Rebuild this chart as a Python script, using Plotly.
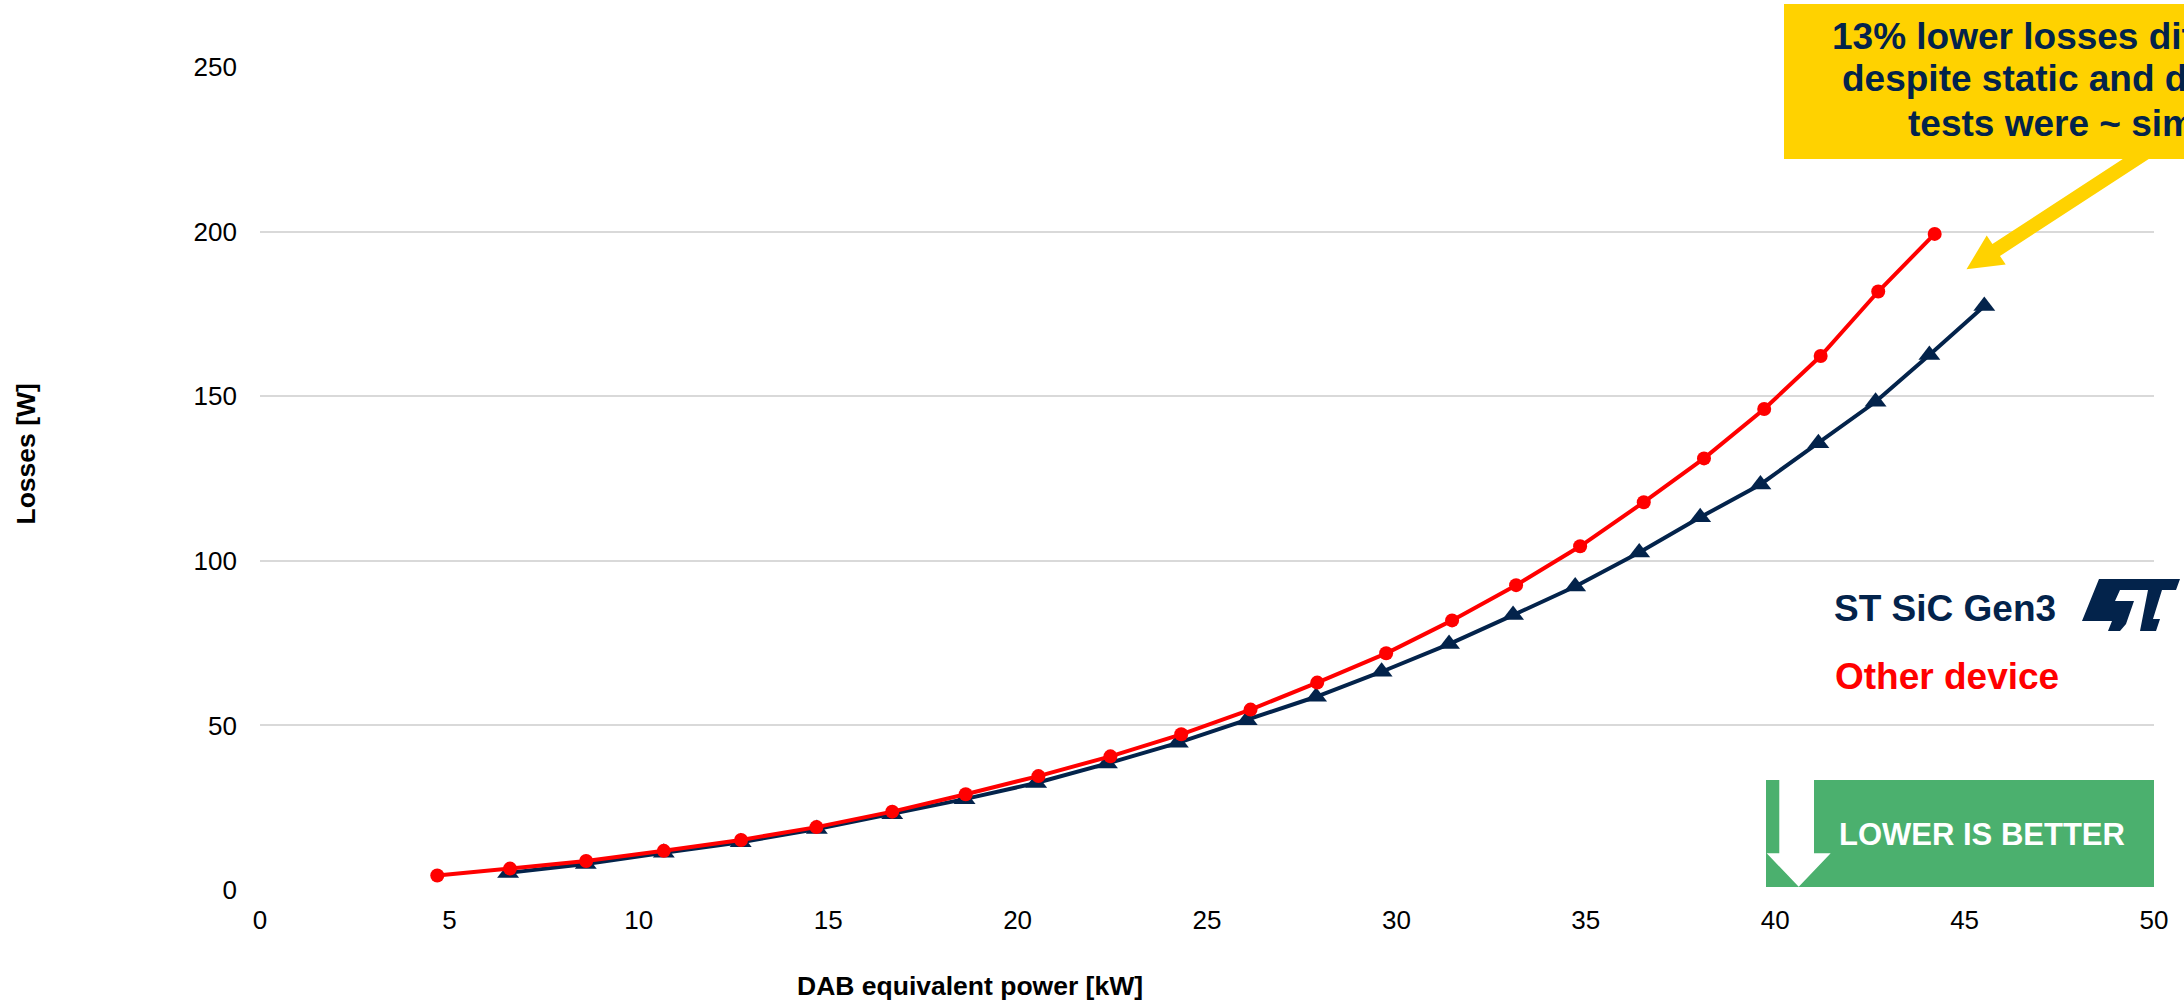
import plotly.graph_objects as go

# ---- measured loss curves -------------------------------------------------
power_other_kw = [4.68, 6.60, 8.61, 10.66, 12.70, 14.69, 16.69, 18.63, 20.55, 22.45,
                  24.32, 26.15, 27.91, 29.73, 31.47, 33.16, 34.85, 36.53, 38.12, 39.71,
                  41.20, 42.72, 44.21]
losses_other_w = [4.4, 6.5, 8.8, 11.9, 15.2, 19.1, 23.8, 29.1, 34.6, 40.6,
                  47.3, 54.8, 63.0, 71.9, 81.9, 92.6, 104.4, 117.8, 131.1, 146.1,
                  162.2, 181.8, 199.3]

power_st_kw = [6.55, 8.60, 10.66, 12.69, 14.70, 16.69, 18.60, 20.49, 22.36, 24.23,
               26.05, 27.88, 29.61, 31.39, 33.08, 34.72, 36.41, 38.02, 39.61, 41.14,
               42.65, 44.07, 45.52]
losses_st_w = [5.2, 7.9, 11.3, 14.5, 18.5, 23.0, 27.6, 32.5, 38.4, 44.7,
               51.6, 58.7, 66.3, 74.7, 83.5, 92.2, 102.5, 113.2, 123.2, 135.7,
               148.3, 162.5, 177.4]

x_ticks = [0, 5, 10, 15, 20, 25, 30, 35, 40, 45, 50]
y_ticks = [0, 50, 100, 150, 200, 250]

series_names = ["ST SiC Gen3", "Other device"]
callout_lines = ["13% lower losses difference", "despite static and dynamic", "tests were ~ similar"]

# ---- styling ----------------------------------------------------------------
NAVY = "#03234B"
RED = "#FF0000"
YELLOW = "#FFD200"
GREEN = "#4BB06E"
FONT = "Liberation Sans, Arial, sans-serif"

W, H = 2184, 1004
L, R, T, B = 260, 2154, 67, 890  # plot area in page pixels


def px(x):
    return (x - L) / (R - L)


def py(y):
    return (B - y) / (B - T)


def poly(points):
    return "M " + " L ".join(f"{px(x):.5f},{py(y):.5f}" for x, y in points) + " Z"


fig = go.Figure()

fig.add_trace(go.Scatter(
    x=power_st_kw, y=losses_st_w, name=series_names[0], mode="lines+markers",
    line=dict(color=NAVY, width=4),
    marker=dict(symbol="triangle-up", size=19, color=NAVY),
))
fig.add_trace(go.Scatter(
    x=power_other_kw, y=losses_other_w, name=series_names[1], mode="lines+markers",
    line=dict(color=RED, width=4),
    marker=dict(symbol="circle", size=14, color=RED),
))

shapes = []

# "lower is better" badge with a white down arrow
shapes.append(dict(type="rect", xref="paper", yref="paper",
                   x0=px(1766), x1=px(2154), y0=py(887), y1=py(780),
                   fillcolor=GREEN, line=dict(width=0), layer="above"))
shapes.append(dict(type="path", xref="paper", yref="paper",
                   path=poly([(1779.3, 780), (1814, 780), (1814, 853.3), (1830.7, 853.3),
                              (1798.7, 886.7), (1766.7, 853.3), (1779.3, 853.3)]),
                   fillcolor="white", line=dict(width=0), layer="above"))

# yellow arrow pointing at the curve ends
shapes.append(dict(type="path", xref="paper", yref="paper",
                   path=poly([(1966.5, 269.3), (2005.7, 264.6), (2000.0, 255.9),
                              (2153.4, 155.9), (2145.8, 144.1), (1992.4, 244.1),
                              (1986.7, 235.4)]),
                   fillcolor=YELLOW, line=dict(width=0), layer="above"))

# yellow callout box (runs past the right page edge)
shapes.append(dict(type="rect", xref="paper", yref="paper",
                   x0=px(1784), x1=px(2373), y0=py(159), y1=py(4),
                   fillcolor=YELLOW, line=dict(width=0), layer="above"))

# ST logo
ox, oy = 2082, 579
logo_s = [(17, 0), (98, 0), (94, 11), (38, 11), (33, 22), (52, 22), (44, 45),
          (38, 52), (26, 52), (30, 42), (0, 42)]
logo_t = [(66, 11), (80, 11), (71, 40), (78, 40), (74, 52), (58, 52)]
for piece in (logo_s, logo_t):
    shapes.append(dict(type="path", xref="paper", yref="paper",
                       path=poly([(ox + x, oy + y) for x, y in piece]),
                       fillcolor=NAVY, line=dict(width=0), layer="above"))

annotations = []
callout_mid = [36.5, 78.5, 123.0]
for text, ym in zip(callout_lines, callout_mid):
    annotations.append(dict(text=f"<b>{text}</b>", xref="paper", yref="paper",
                            x=px(2078.6), y=py(ym), xanchor="center", yanchor="middle",
                            showarrow=False, font=dict(family=FONT, size=37, color=NAVY)))

annotations.append(dict(text=f"<b>{series_names[0]}</b>", xref="paper", yref="paper",
                        x=px(1832), y=py(608), xanchor="left", yanchor="middle",
                        showarrow=False, font=dict(family=FONT, size=37, color=NAVY)))
annotations.append(dict(text=f"<b>{series_names[1]}</b>", xref="paper", yref="paper",
                        x=px(1832.5), y=py(676), xanchor="left", yanchor="middle",
                        showarrow=False, font=dict(family=FONT, size=37, color=RED)))

annotations.append(dict(text="<b>LOWER IS BETTER</b>", xref="paper", yref="paper",
                        x=px(1836.5), y=py(834), xanchor="left", yanchor="middle",
                        showarrow=False, font=dict(family=FONT, size=31, color="white")))

annotations.append(dict(text="<b>DAB equivalent power [kW]</b>", xref="paper", yref="paper",
                        x=px(970), y=py(986), xanchor="center", yanchor="middle",
                        showarrow=False, font=dict(family=FONT, size=26.5, color="black")))
annotations.append(dict(text="<b>Losses [W]</b>", xref="paper", yref="paper",
                        x=px(25.5), y=py(454), xanchor="center", yanchor="middle",
                        textangle=-90, showarrow=False,
                        font=dict(family=FONT, size=26.5, color="black")))

fig.update_layout(
    width=W, height=H,
    margin=dict(l=L, r=W - R, t=T, b=H - B, pad=0),
    paper_bgcolor="white", plot_bgcolor="white",
    showlegend=False,
    font=dict(family=FONT, size=26, color="black"),
    shapes=shapes,
    annotations=annotations,
    xaxis=dict(range=[0, 50], tickvals=x_ticks, showgrid=False, zeroline=False,
               showline=False, ticks="", ticklabelstandoff=12,
               tickfont=dict(family=FONT, size=26, color="black"), fixedrange=True),
    yaxis=dict(range=[0, 250], tickvals=y_ticks, showgrid=True, gridcolor="#D9D9D9",
               gridwidth=2, zeroline=False, showline=False, ticks="",
               ticklabelstandoff=22,
               tickfont=dict(family=FONT, size=26, color="black"), fixedrange=True),
)

fig.write_html("out.html")
